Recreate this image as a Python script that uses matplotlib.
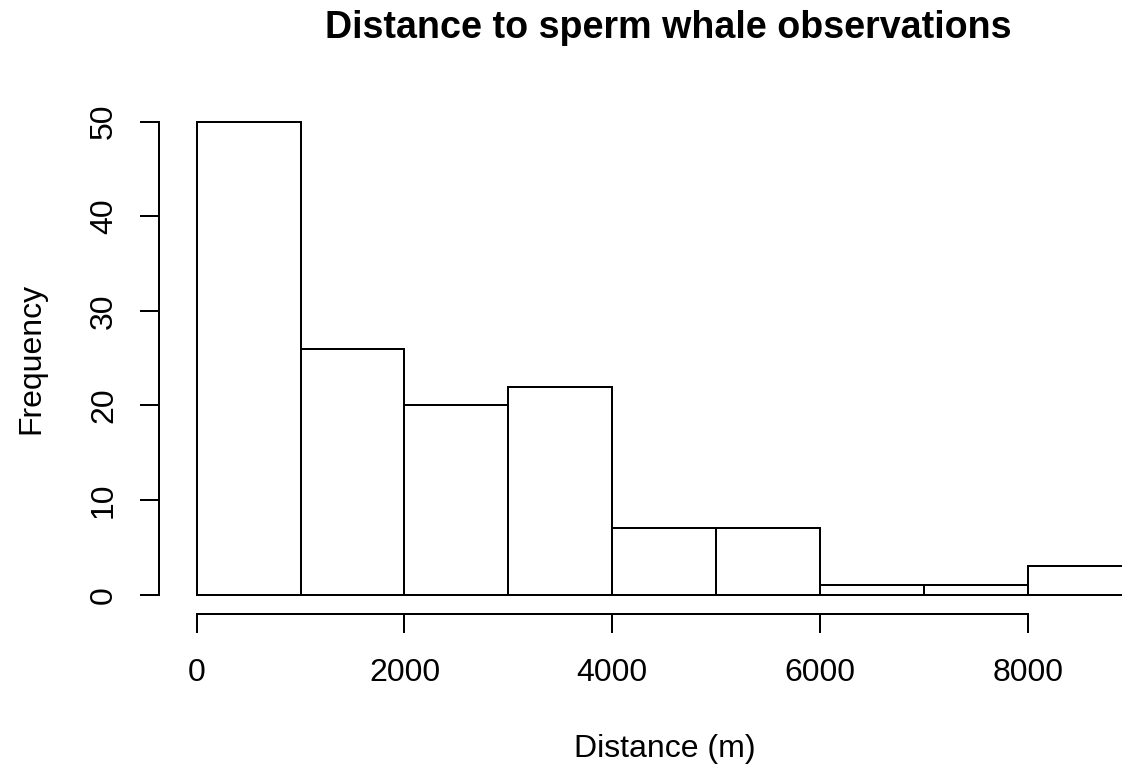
import matplotlib.pyplot as plt
import numpy as np

plt.rcParams["font.family"] = ["Liberation Sans", "DejaVu Sans"]

# histogram bins (metres) and counts
bin_edges = [0, 1000, 2000, 3000, 4000, 5000, 6000, 7000, 8000, 9000]
counts = [50, 26, 20, 22, 7, 7, 1, 1, 3]
x_ticks = [0, 2000, 4000, 6000, 8000]
y_ticks = [0, 10, 20, 30, 40, 50]

DPI = 192
W, H = 1122, 766


def main():
    fig = plt.figure(figsize=(W / DPI, H / DPI), dpi=DPI)
    left_px, right_px, top_px, bottom_px = 159.3, 1122, 102.8, 613.6
    ax = fig.add_axes([
        left_px / W,
        1 - bottom_px / H,
        (right_px - left_px) / W,
        (bottom_px - top_px) / H,
    ])

    edges = np.array(bin_edges)
    ax.bar(edges[:-1], counts, width=np.diff(edges), align="edge",
           fill=False, edgecolor="black", linewidth=0.75)

    ax.set_xlim(-360, 8906)
    ax.set_ylim(-2, 52)

    for side in ("top", "right"):
        ax.spines[side].set_visible(False)
    ax.spines["left"].set_bounds(0, 50)
    ax.spines["bottom"].set_bounds(0, 8000)
    for side in ("left", "bottom"):
        ax.spines[side].set_linewidth(0.75)

    ax.set_xticks(x_ticks)
    ax.set_xticklabels([str(t) for t in x_ticks])
    ax.set_yticks(y_ticks)
    ax.set_yticklabels([str(t) for t in y_ticks], rotation=90, va="center")
    ax.tick_params(axis="both", length=7.3, width=0.75, labelsize=12)
    ax.tick_params(axis="x", pad=9.5)
    ax.tick_params(axis="y", pad=7.8)

    fig.text(668.5 / W, 1 - 38.3 / H, "Distance to sperm whale observations",
             ha="center", va="baseline", fontsize=14.1, fontweight="bold")
    fig.text(665 / W, 1 - 756.7 / H, "Distance (m)", ha="center",
             va="baseline", fontsize=12)
    fig.text(31.2 / W, 1 - 358.2 / H, "Frequency", rotation=90,
             ha="center", va="center", fontsize=12)

    fig.savefig("out.png", dpi=DPI)
    plt.close(fig)


if __name__ == "__main__":
    main()
